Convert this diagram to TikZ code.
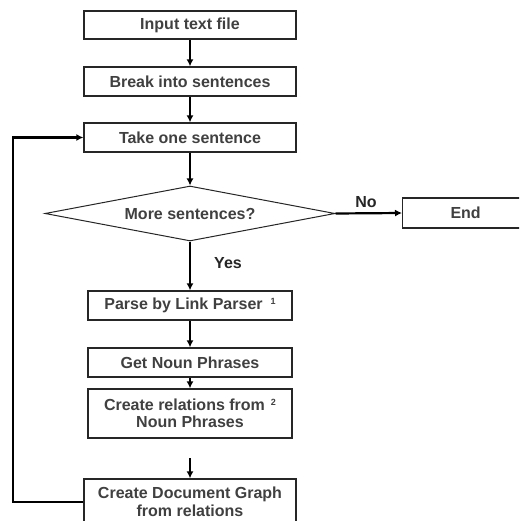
\documentclass[tikz,border=0pt]{standalone}
\usepackage{fontspec}
\setmainfont{Liberation Sans}
\usetikzlibrary{shapes.geometric,arrows.meta}
\definecolor{txtgray}{HTML}{404040}
\definecolor{edgegray}{HTML}{262626}
\tikzset{
  stepbox/.style={draw=edgegray, line width=1.3pt, fill=white, inner sep=0pt,
    text=txtgray, font=\bfseries\fontsize{16}{19}\selectfont, align=center},
  decision/.style={draw=edgegray, line width=1pt, shape=diamond, inner sep=0pt,
    shape aspect=5.3, text=txtgray, font=\bfseries\fontsize{16}{19}\selectfont},
  flow/.style={line width=2.2pt, -{Latex[length=7pt,width=7pt]}},
  lbl/.style={font=\bfseries\fontsize{16}{19}\selectfont, text=black!85}
}
\begin{document}
\begin{tikzpicture}[x=1pt,y=-1pt]
  \useasboundingbox (0,0) rectangle (519,521);
  \clip (0,0) rectangle (519,521);
  \fill[white] (0,0) rectangle (519,521);

  % main column of steps
  \node[stepbox, minimum width=212pt, minimum height=28pt] (input) at (190,25) {Input text file};
  \node[stepbox, minimum width=212pt, minimum height=29pt] (brk) at (190,81.5) {Break into sentences};
  \node[stepbox, minimum width=212pt, minimum height=29pt] (take) at (190,137.5) {Take one sentence};
  \node[decision, minimum width=290pt, minimum height=55pt] (more) at (190,213.5) {More sentences?};
  \node[stepbox, minimum width=126pt, minimum height=30pt, anchor=west] (end) at (402,213) {End};
  \node[stepbox, minimum width=204pt, minimum height=29pt] (parse) at (190,305.5)
    {Parse by Link Parser\hspace{8pt}\raisebox{5pt}{\fontsize{9}{10}\selectfont 1}};
  \node[stepbox, minimum width=204pt, minimum height=29pt] (np) at (190,362.5) {Get Noun Phrases};
  \node[stepbox, minimum width=204pt, minimum height=49pt] (rel) at (190,413.5)
    {Create relations from\hspace{6pt}\raisebox{5pt}{\fontsize{9}{10}\selectfont 2}\\[-2pt]Noun Phrases};
  \node[stepbox, minimum width=212pt, minimum height=46pt] (graph) at (190,502)
    {Create Document Graph\\[-1pt]from relations};

  % connectors
  \draw[flow] (input) -- (brk);
  \draw[flow] (brk) -- (take);
  \draw[flow] (take) -- (more.north);
  \draw[flow] (more.east) -- (end.west);
  \draw[flow] (more.south) -- (parse);
  \draw[flow] (parse) -- (np);
  \draw[flow] (np) -- (rel);
  \coordinate (gap) at (190,458);
  \draw[flow] (gap) -- (graph.north);
  \draw[flow] (graph.west) -- (13,502) |- (take.west);

  % branch labels
  \node[lbl] (no) at (366,202) {No};
  \node[lbl] (yes) at (228,263) {Yes};
\end{tikzpicture}
\end{document}
